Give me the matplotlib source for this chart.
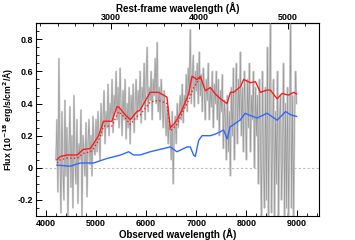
import matplotlib
matplotlib.use("Agg")
import matplotlib.pyplot as plt
from matplotlib.ticker import MultipleLocator
import numpy as np

plt.rcParams['font.family'] = ['Liberation Sans', 'DejaVu Sans']
plt.rcParams['font.weight'] = 'bold'

Z = 0.764

# observed spectrum (grey), 20 A sampling
wl_spec = np.arange(4200, 9001, 20)
flux_spec = [
    0.05, 0.30, -0.15, 0.68, 0.10, -0.28, 0.35, 0.00, -0.20, 0.42, -0.05,
    0.25, -0.30, 0.10, 0.38, -0.12, 0.20, -0.25, 0.45, 0.05, -0.10,
    0.30, -0.22, 0.15, 0.05, 0.36, -0.30, 0.20, 0.10, -0.05, 0.28,
    -0.18, 0.15, 0.30, 0.02, 0.20, -0.05, 0.32, 0.12, 0.08, 0.30,
    0.10, 0.35, 0.18, 0.05, 0.40, 0.20, 0.30, 0.48, 0.15, 0.35,
    0.25, 0.52, 0.20, 0.40, 0.30, 0.55, 0.22, 0.45, 0.35, 0.60,
    0.30, 0.50, 0.25, 0.62, 0.38, 0.20, 0.48, 0.30, 0.55, 0.18,
    0.40, 0.25, 0.50, 0.15, 0.45, 0.30, 0.52, 0.22, 0.40, 0.55,
    0.30, 0.48, 0.35, 0.60, 0.28, 0.50, 0.40, 0.65, 0.30, 0.55,
    0.75, 0.35, 0.50, 0.42, 0.60, 0.30, 0.55, 0.45, 0.68, 0.40,
    0.78, 0.35, 0.50, 0.30, 0.55, 0.42, 0.25, 0.48, 0.32, 0.20,
    0.38, 0.15, 0.30, 0.22, 0.05, 0.35, -0.10, 0.25, 0.32, 0.15,
    0.40, 0.25, 0.35, 0.45, 0.30, 0.52, 0.28, 0.45, 0.38, 0.58,
    0.35, 0.62, 0.45, 0.86, 0.40, 0.55, 0.70, 0.38, 0.60, 0.48,
    0.65, 0.40, 0.72, 0.45, 0.58, 0.35, 0.62, 0.50, 0.30, 0.55,
    0.42, 0.65, 0.30, 0.50, 0.38, 0.60, 0.25, 0.52, 0.40, 0.60,
    0.30, 0.55, 0.20, 0.48, 0.35, 0.58, 0.12, 0.42, 0.30, 0.05,
    0.45, 0.10, 0.35, -0.05, 0.50, 0.20, 0.62, 0.05, 0.40, 0.65,
    0.15, 0.55, 0.30, 0.72, 0.20, 0.50, 0.10, 0.60, 0.35, 0.05,
    0.55, 0.25, 0.65, 0.10, 0.45, 0.30, 0.60, 0.00, 0.50, 0.20,
    0.45, -0.10, 0.55, 0.15, -0.30, 0.60, 0.05, -0.25, 0.50, -0.20,
    0.75, -0.30, 0.40, 0.90, -0.28, 0.20, 0.55, -0.30, 0.35, -0.10,
    0.60, -0.30, 0.30, 0.45, -0.20, 0.10, 0.65, -0.30, 0.40, -0.25,
    0.50, -0.30, 0.20, 0.90, -0.25, 0.45, -0.30, 0.30, 0.60, 0.40,
]

# model (red solid)
wl_model = [4220, 4285, 4420, 4620, 4750, 4885, 4950, 5050, 5150, 5317,
            5417, 5450, 5583, 5683, 5816, 5880, 6080, 6250, 6415, 6480,
            6547, 6615, 6715, 6846, 6914, 7014, 7080, 7180, 7280, 7380,
            7480, 7613, 7680, 7745, 7880, 7944, 8080, 8180, 8278, 8411,
            8477, 8511, 8611, 8711, 8842, 8942, 9000]
flux_model = [0.05, 0.07, 0.08, 0.08, 0.115, 0.12, 0.15, 0.20, 0.29, 0.29,
              0.38, 0.38, 0.33, 0.30, 0.35, 0.36, 0.47, 0.47, 0.44, 0.25,
              0.27, 0.30, 0.36, 0.46, 0.57, 0.55, 0.57, 0.48, 0.50, 0.46,
              0.43, 0.40, 0.47, 0.47, 0.505, 0.55, 0.53, 0.536, 0.47, 0.484,
              0.484, 0.47, 0.43, 0.463, 0.453, 0.47, 0.46]

# alternative model (red dotted)
wl_model2 = [4220, 4285, 4420, 4620, 4750, 4885, 4950, 5050, 5150, 5317,
             5450, 5583, 5683, 5816, 5880, 6080, 6250, 6415, 6480, 6615,
             6715, 6846, 6946, 7014, 7080]
flux_model2 = [0.03, 0.05, 0.06, 0.06, 0.09, 0.10, 0.12, 0.17, 0.26, 0.26,
               0.35, 0.31, 0.27, 0.32, 0.33, 0.41, 0.42, 0.40, 0.23, 0.27,
               0.34, 0.42, 0.50, 0.53, 0.56]

# blue component
wl_blue = [4220, 4485, 4685, 4950, 5217, 5483, 5650, 5750, 5880, 6080,
           6347, 6480, 6615, 6814, 6880, 6946, 6980, 7046, 7114, 7280,
           7380, 7545, 7615, 7675, 7874, 7974, 8044, 8212, 8411, 8611,
           8782, 8880, 9000]
flux_blue = [0.017, 0.01, 0.03, 0.03, 0.058, 0.079, 0.10, 0.08, 0.08, 0.10,
             0.12, 0.13, 0.10, 0.13, 0.13, 0.08, 0.07, 0.17, 0.20, 0.20,
             0.21, 0.235, 0.18, 0.255, 0.297, 0.34, 0.33, 0.31, 0.34, 0.297,
             0.35, 0.33, 0.32]

fig = plt.figure(figsize=(3.55, 2.4), dpi=100)
ax = fig.add_axes([0.101, 0.10, 0.798, 0.803])

ax.axhline(0, color='#bbbbbb', lw=0.8, ls=(0, (2, 2)), zorder=1)
ax.plot(wl_spec, flux_spec, color='#d2d2d2', lw=1.4, zorder=2)
ax.plot(wl_spec, flux_spec, color='#9a9a9a', lw=0.5, zorder=3)
ax.plot(wl_model2, flux_model2, color='#ff1a1a', lw=1.0, ls=':', zorder=4)
ax.plot(wl_model, flux_model, color='#ff1a1a', lw=1.0, zorder=5)
ax.plot(wl_blue, flux_blue, color='#3366ff', lw=1.0, zorder=5)

ax.set_xlim(3800, 9450)
ax.set_ylim(-0.3, 0.9)
ax.xaxis.set_major_locator(MultipleLocator(1000))
ax.xaxis.set_minor_locator(MultipleLocator(200))
ax.yaxis.set_minor_locator(MultipleLocator(0.05))
ax.set_yticks([-0.2, 0, 0.2, 0.4, 0.6, 0.8])
ax.set_yticklabels(['-0.2', '0', '0.2', '0.4', '0.6', '0.8'])
ax.tick_params(which='both', direction='in', top=False, right=False, labelsize=6.5, pad=2)
ax.tick_params(which='major', length=4, width=0.7)
ax.tick_params(which='minor', length=2, width=0.6)
for s in ax.spines.values():
    s.set_linewidth(0.8)

ax.set_xlabel('Observed wavelength (Å)', fontsize=7, fontweight='bold', labelpad=0)
ax.set_ylabel('Flux (10$^{-18}$ erg/s/cm$^2$/Å)', fontsize=6.3, fontweight='bold', labelpad=1)

sec = ax.secondary_xaxis('top', functions=(lambda x: x / (1 + Z), lambda x: x * (1 + Z)))
sec.xaxis.set_major_locator(MultipleLocator(1000))
sec.xaxis.set_minor_locator(MultipleLocator(200))
sec.tick_params(which='both', direction='in', labelsize=6.5, pad=1)
sec.tick_params(which='major', length=4, width=0.7)
sec.tick_params(which='minor', length=2, width=0.6)
sec.set_xlabel('Rest-frame wavelength (Å)', fontsize=7, fontweight='bold', labelpad=1)

fig.savefig('out.png', dpi=100)
